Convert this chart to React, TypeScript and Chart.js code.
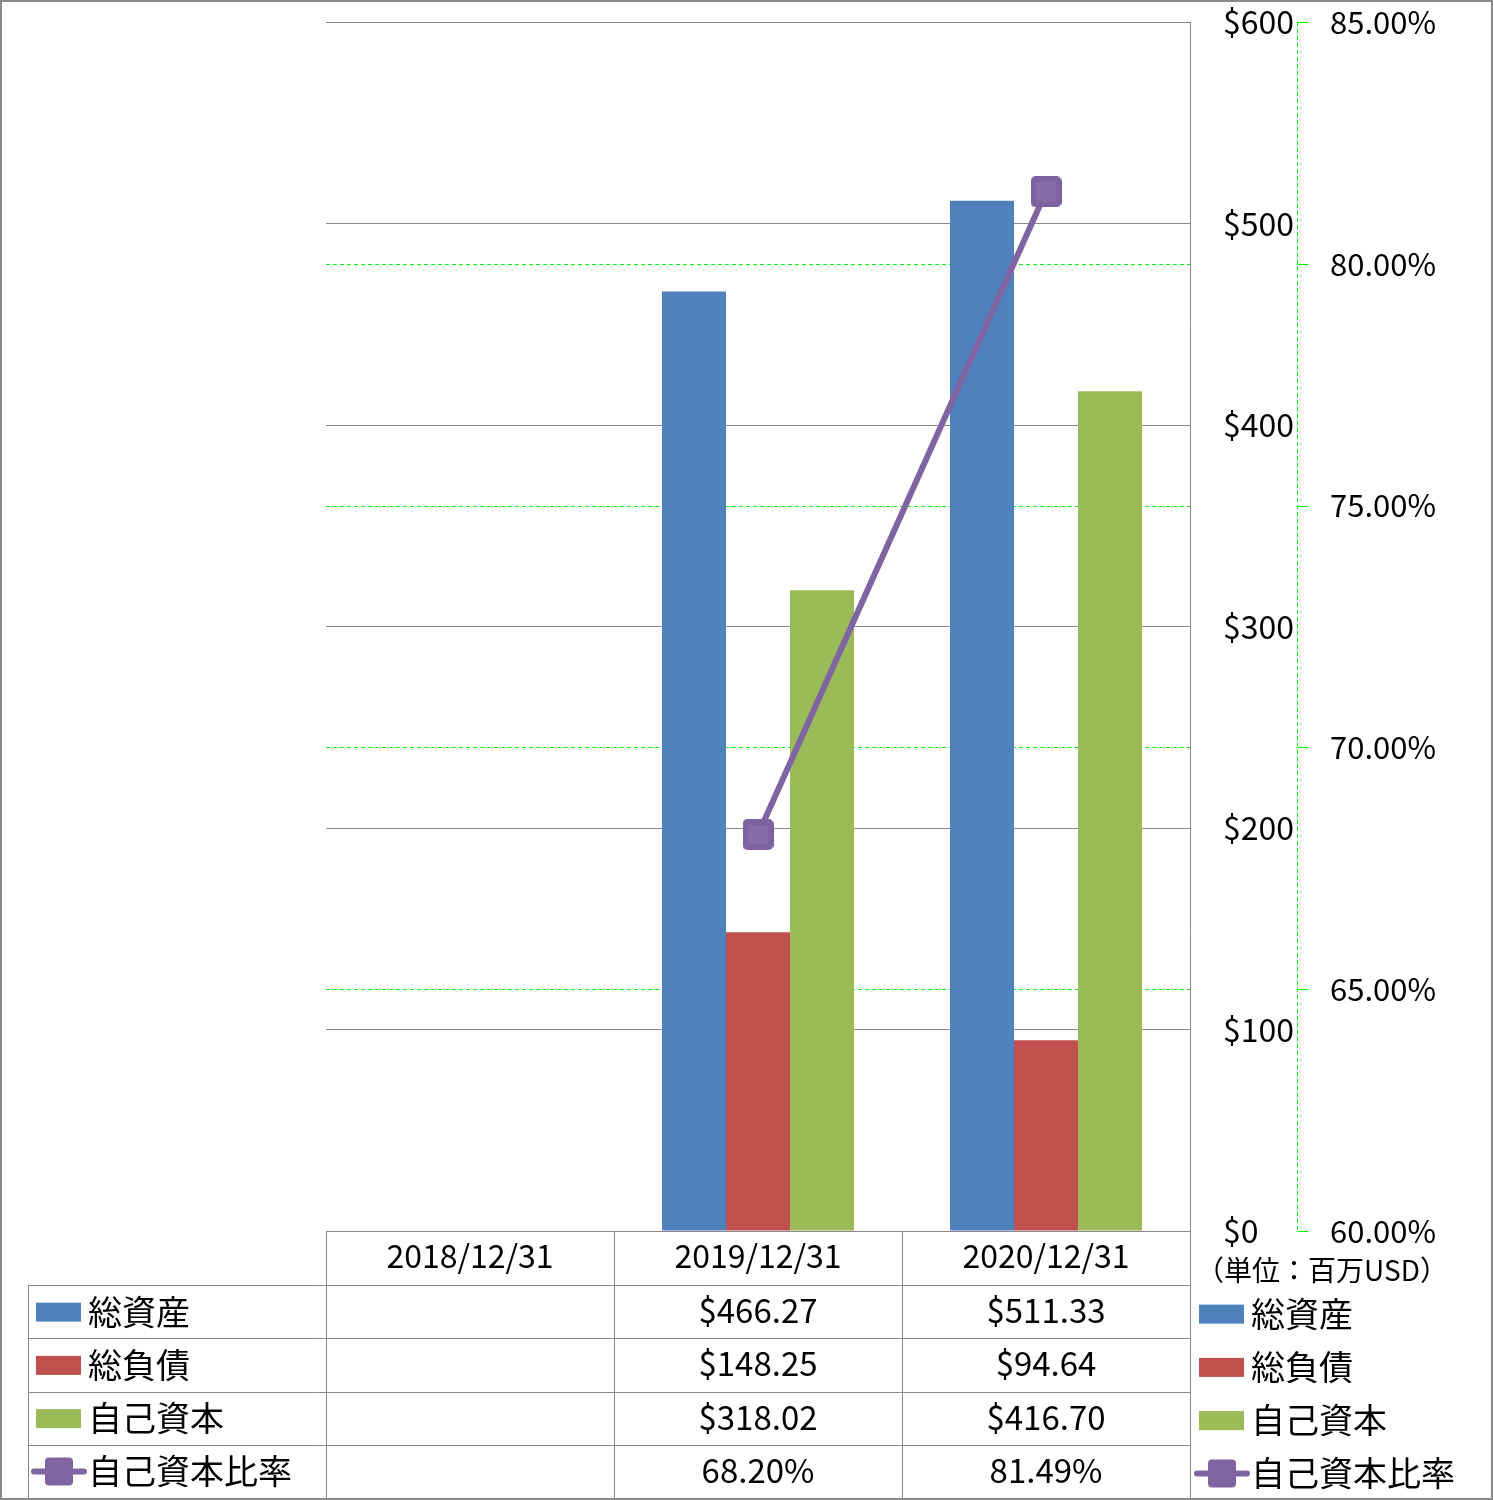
import React, { useEffect, useRef } from 'react';
import { Chart, registerables } from 'chart.js';

Chart.register(...registerables);

const categories = ['2018/12/31', '2019/12/31', '2020/12/31'];
const totalAssets: (number | null)[] = [null, 466.27, 511.33];
const totalLiabilities: (number | null)[] = [null, 148.25, 94.64];
const equity: (number | null)[] = [null, 318.02, 416.7];
const equityRatio: (number | null)[] = [null, 68.2, 81.49];
const seriesNames = ['総資産', '総負債', '自己資本', '自己資本比率'];
const seriesColors = ['#4F81BD', '#C0504D', '#9BBB59', '#8064A2'];
const moneyMin = 0;
const moneyMax = 600;
const moneyStep = 100;
const ratioMin = 60;
const ratioMax = 85;
const ratioStep = 5;
const unitNote = '（単位：百万USD）';

const FONT = "'Noto Sans CJK JP', 'Noto Sans', sans-serif";
const LINE_GRAY = '#898989';
const GRID_GREEN = '#00ff00';

const fmtMoney = (v: number | null) => (v == null ? '' : '$' + v.toFixed(2));
const fmtRatio = (v: number | null) => (v == null ? '' : v.toFixed(2) + '%');

function roundRectPath(ctx: CanvasRenderingContext2D, x: number, y: number, w: number, h: number, r: number) {
  ctx.beginPath();
  ctx.moveTo(x + r, y);
  ctx.lineTo(x + w - r, y);
  ctx.arcTo(x + w, y, x + w, y + r, r);
  ctx.lineTo(x + w, y + h - r);
  ctx.arcTo(x + w, y + h, x + w - r, y + h, r);
  ctx.lineTo(x + r, y + h);
  ctx.arcTo(x, y + h, x, y + h - r, r);
  ctx.lineTo(x, y + r);
  ctx.arcTo(x, y, x + r, y, r);
  ctx.closePath();
}

function makeMarker(size: number, color: string): HTMLCanvasElement {
  const c = document.createElement('canvas');
  c.width = size;
  c.height = size;
  const g = c.getContext('2d')!;
  g.fillStyle = '#7d61a1';
  roundRectPath(g, 0, 0, size, size, 5);
  g.fill();
  g.fillStyle = color;
  g.fillRect(5, 5, size - 10, size - 10);
  g.fillStyle = 'rgba(255,255,255,0.06)';
  g.fillRect(6, 6, size - 12, size - 12);
  return c;
}

function drawKey(ctx: CanvasRenderingContext2D, idx: number, x: number, cy: number) {
  const color = seriesColors[idx];
  if (idx < 3) {
    ctx.fillStyle = color;
    ctx.fillRect(x, cy - 9, 45, 19);
  } else {
    ctx.save();
    ctx.strokeStyle = color;
    ctx.lineWidth = 6;
    ctx.lineCap = 'round';
    ctx.beginPath();
    ctx.moveTo(x - 2, cy);
    ctx.lineTo(x + 48, cy);
    ctx.stroke();
    ctx.fillStyle = color;
    roundRectPath(ctx, x + 9, cy - 14, 28, 28, 4);
    ctx.fill();
    ctx.restore();
  }
}

const tablePlugin = {
  id: 'dataTable',
  beforeDatasetsDraw(chart: any) {
    const ctx: CanvasRenderingContext2D = chart.ctx;
    const y1 = chart.scales.y1;
    const area = chart.chartArea;
    const axisX = Math.round(y1.left) + 0.5;
    ctx.save();
    ctx.strokeStyle = GRID_GREEN;
    ctx.lineWidth = 1;
    for (let v = ratioMin; v <= ratioMax + 1e-9; v += ratioStep) {
      const y = Math.round(y1.getPixelForValue(v)) + 0.5;
      if (v !== ratioMin && v !== ratioMax) {
        ctx.setLineDash([4, 3]);
        ctx.beginPath();
        ctx.moveTo(area.left, y);
        ctx.lineTo(area.right, y);
        ctx.stroke();
      }
      ctx.setLineDash([]);
      ctx.beginPath();
      ctx.moveTo(axisX, y);
      ctx.lineTo(axisX + 11, y);
      ctx.stroke();
    }
    ctx.setLineDash([4, 3]);
    ctx.beginPath();
    ctx.moveTo(axisX, area.top);
    ctx.lineTo(axisX, area.bottom);
    ctx.stroke();
    ctx.restore();
  },
  afterDraw(chart: any) {
    const ctx: CanvasRenderingContext2D = chart.ctx;
    const area = chart.chartArea;
    const xs = chart.scales.x;
    const W = chart.width;
    const H = chart.height;
    const n = categories.length;
    const colW = (area.right - area.left) / n;
    const tableLeft = 28;
    const headerTop = area.bottom;
    const headerBottom = headerTop + 54;
    const tableBottom = H - 2;
    const rowH = (tableBottom - headerBottom) / 4;
    const px = (v: number) => Math.round(v) + 0.5;

    ctx.save();
    ctx.strokeStyle = LINE_GRAY;
    ctx.lineWidth = 1;
    ctx.beginPath();
    ctx.moveTo(area.left, px(headerTop));
    ctx.lineTo(area.right, px(headerTop));
    for (let r = 0; r < 4; r++) {
      const y = px(headerBottom + r * rowH);
      ctx.moveTo(tableLeft, y);
      ctx.lineTo(area.right, y);
    }
    for (let c = 0; c <= n; c++) {
      const x = px(area.left + c * colW);
      ctx.moveTo(x, headerTop);
      ctx.lineTo(x, tableBottom);
    }
    ctx.moveTo(px(tableLeft), headerBottom);
    ctx.lineTo(px(tableLeft), tableBottom);
    ctx.stroke();

    ctx.lineWidth = 2;
    ctx.strokeRect(1, 1, W - 2, H - 2);

    const rows = [
      totalAssets.map(fmtMoney),
      totalLiabilities.map(fmtMoney),
      equity.map(fmtMoney),
      equityRatio.map(fmtRatio),
    ];
    ctx.textBaseline = 'middle';
    for (let r = 0; r < 4; r++) {
      const cy = headerBottom + r * rowH + rowH / 2;
      drawKey(ctx, r, 36, cy);
      ctx.fillStyle = '#000';
      ctx.textAlign = 'left';
      ctx.font = `34px ${FONT}`;
      ctx.fillText(seriesNames[r], 88, cy);
      ctx.textAlign = 'center';
      ctx.font = `33px ${FONT}`;
      for (let c = 0; c < n; c++) {
        ctx.fillText(rows[r][c], xs.getPixelForValue(c), cy - 1);
      }
      const ly = cy + 2;
      drawKey(ctx, r, 1199, ly);
      ctx.fillStyle = '#000';
      ctx.textAlign = 'left';
      ctx.font = `34px ${FONT}`;
      ctx.fillText(seriesNames[r], 1251, ly);
    }
    ctx.font = `28px ${FONT}`;
    ctx.textAlign = 'center';
    ctx.fillText(unitNote, 1322, headerTop + 39);
    ctx.restore();
  },
};

export default function App() {
  const ref = useRef<HTMLCanvasElement>(null);
  useEffect(() => {
    const canvas = ref.current;
    if (!canvas) return;
    const marker = makeMarker(31, seriesColors[3]);
    const chart = new Chart(canvas, {
      type: 'bar',
      data: {
        labels: categories,
        datasets: [
          {
            type: 'line',
            label: seriesNames[3],
            data: equityRatio,
            yAxisID: 'y1',
            borderColor: seriesColors[3],
            borderWidth: 6,
            pointStyle: marker,
            pointRadius: 16,
            pointHoverRadius: 16,
            pointBackgroundColor: seriesColors[3],
            pointBorderWidth: 0,
            tension: 0,
            order: 0,
          } as any,
          {
            label: seriesNames[0],
            data: totalAssets,
            backgroundColor: seriesColors[0],
            yAxisID: 'y',
            categoryPercentage: 2 / 3,
            barPercentage: 1,
            order: 1,
          },
          {
            label: seriesNames[1],
            data: totalLiabilities,
            backgroundColor: seriesColors[1],
            yAxisID: 'y',
            categoryPercentage: 2 / 3,
            barPercentage: 1,
            order: 1,
          },
          {
            label: seriesNames[2],
            data: equity,
            backgroundColor: seriesColors[2],
            yAxisID: 'y',
            categoryPercentage: 2 / 3,
            barPercentage: 1,
            order: 1,
          },
        ],
      },
      options: {
        responsive: false,
        animation: false,
        devicePixelRatio: 1,
        layout: { padding: { left: 326, top: 22, right: 0, bottom: 0 } },
        plugins: {
          legend: { display: false },
          tooltip: { enabled: false },
          title: { display: false },
        },
        scales: {
          x: {
            position: 'bottom',
            grid: { display: false },
            border: { display: false },
            ticks: {
              padding: -2,
              color: '#000',
              font: { family: FONT, size: 32 },
              maxRotation: 0,
            },
            afterFit: (s: any) => {
              s.height = 269;
              s.paddingLeft = 0;
              s.paddingRight = 0;
            },
          },
          y: {
            position: 'right',
            min: moneyMin,
            max: moneyMax,
            weight: 0,
            ticks: {
              stepSize: moneyStep,
              padding: 33,
              crossAlign: 'near',
              color: '#000',
              font: { family: FONT, size: 32 },
              callback: (v: any) => '$' + v,
            },
            grid: { color: '#868686', lineWidth: 1, drawTicks: false },
            border: { display: true, color: LINE_GRAY, width: 1 },
            afterFit: (s: any) => {
              s.width = 107;
              s.paddingTop = 0;
              s.paddingBottom = 0;
            },
          },
          y1: {
            position: 'right',
            min: ratioMin,
            max: ratioMax,
            weight: 1,
            ticks: {
              stepSize: ratioStep,
              padding: 25,
              crossAlign: 'near',
              color: '#000',
              font: { family: FONT, size: 31 },
              callback: (v: any) => Number(v).toFixed(2) + '%',
            },
            grid: { display: false },
            border: { display: false },
            afterFit: (s: any) => {
              s.width = 196;
              s.paddingTop = 0;
              s.paddingBottom = 0;
            },
          },
        },
      } as any,
      plugins: [tablePlugin],
    });
    return () => chart.destroy();
  }, []);
  return (
    <div style={{ position: 'absolute', left: 0, top: 0, width: 1493, height: 1500, background: '#fff' }}>
      <canvas ref={ref} width={1493} height={1500} style={{ display: 'block', width: 1493, height: 1500 }} />
    </div>
  );
}
